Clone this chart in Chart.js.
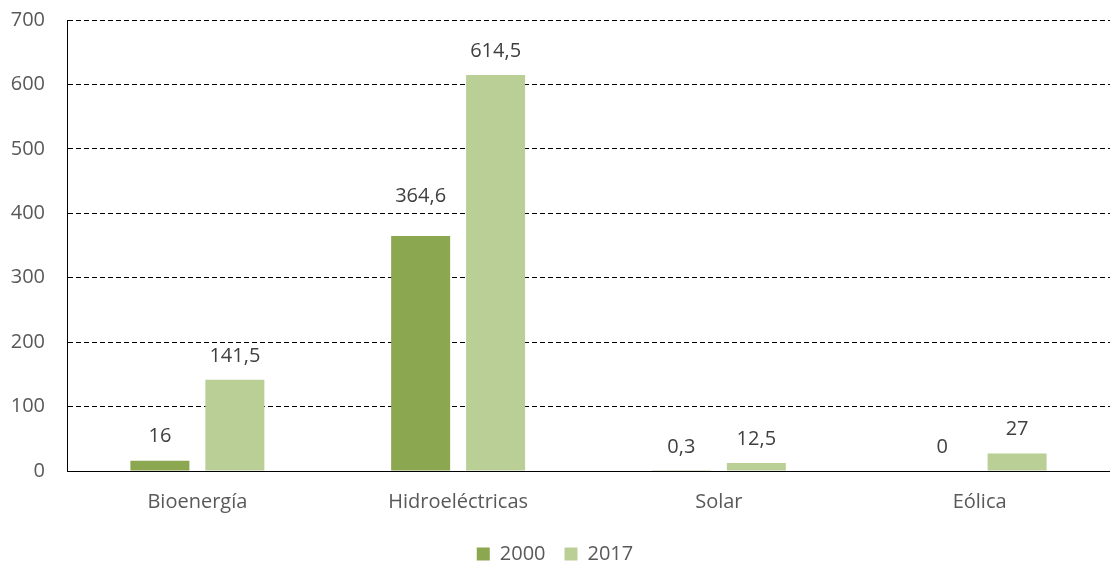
<!DOCTYPE html>
<html>
<head>
<meta charset="utf-8">
<script src="https://cdn.jsdelivr.net/npm/chart.js@4"></script>
<style>
  html, body { margin: 0; padding: 0; background: #fff; }
  #wrap { width: 1110px; height: 564px; }
</style>
</head>
<body>
<div id="wrap"><canvas id="myChart"></canvas></div>
<script>
const categories = ["Bioenergía", "Hidroeléctricas", "Solar", "Eólica"];
const values2000 = [16, 364.6, 0.3, 0];
const values2017 = [141.5, 614.5, 12.5, 27];
const seriesNames = ["2000", "2017"];
const yMax = 700;
const yStep = 100;

const FONT = "'Open Sans', 'Noto Sans', sans-serif";

// draws the numbers above each bar
const barLabels = {
  id: "barLabels",
  afterDatasetsDraw(chart) {
    const c = chart.ctx;
    c.save();
    c.font = "20px " + FONT;
    c.fillStyle = "#404040";
    c.textAlign = "center";
    c.textBaseline = "middle";
    chart.data.datasets.forEach((ds, i) => {
      const meta = chart.getDatasetMeta(i);
      const shift = ds.labelShift || [];
      meta.data.forEach((bar, j) => {
        const txt = String(ds.data[j]).replace(".", ",");
        c.fillText(txt, bar.x, bar.y - 24 - (shift[j] || 0));
      });
    });
    c.restore();
  },
};

const ctx = document.getElementById("myChart");

new Chart(ctx, {
  type: "bar",
  data: {
    labels: categories,
    datasets: [
      {
        label: seriesNames[0],
        data: values2000,
        backgroundColor: "#8BA74F",
        categoryPercentage: 0.575,
        barPercentage: 0.787,
        labelShift: [0, 16, 0, 0],
      },
      {
        label: seriesNames[1],
        data: values2017,
        backgroundColor: "#B9CF96",
        categoryPercentage: 0.575,
        barPercentage: 0.787,
      },
    ],
  },
  options: {
    responsive: true,
    maintainAspectRatio: false,
    animation: false,
    layout: { padding: { top: 20, right: 0, left: 0, bottom: -10 } },
    plugins: {
      legend: {
        position: "bottom",
        labels: {
          boxWidth: 13,
          boxHeight: 13,
          padding: 19,
          color: "#595959",
          font: { family: FONT, size: 20 },
        },
      },
      tooltip: { enabled: false },
    },
    scales: {
      x: {
        grid: { display: false },
        border: { color: "#000", width: 1 },
        ticks: {
          color: "#595959",
          padding: 11,
          font: { family: FONT, size: 20 },
        },
      },
      y: {
        min: 0,
        max: yMax,
        afterFit(scale) {
          scale.width = 67;
          scale.paddingTop = 0;
        },
        grid: {
          color: "#000",
          drawTicks: false,
        },
        border: { color: "#000", width: 1, dash: [5, 3] },
        ticks: {
          stepSize: yStep,
          color: "#595959",
          padding: 22,
          font: { family: FONT, size: 20 },
        },
      },
    },
  },
  plugins: [barLabels],
});
</script>
</body>
</html>
